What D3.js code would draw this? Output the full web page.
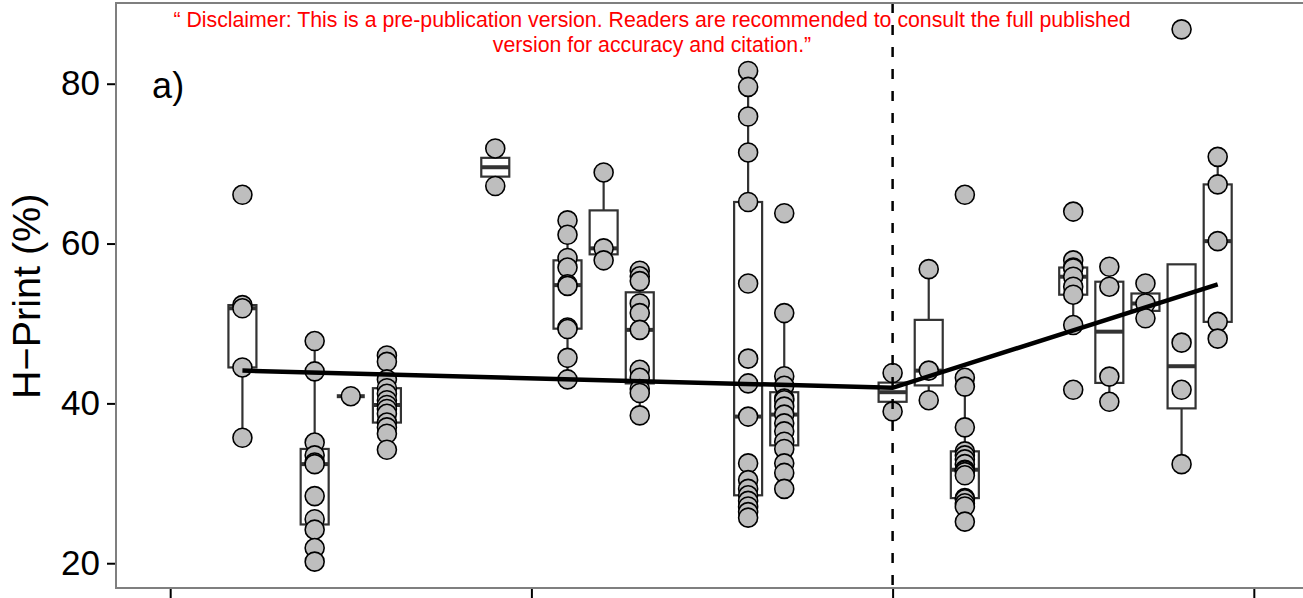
<!DOCTYPE html>
<html>
<head>
<meta charset="utf-8">
<script src="https://cdn.jsdelivr.net/npm/d3@7"></script>
<style>
  html, body { margin: 0; padding: 0; background: #fff; }
  svg { display: block; font-family: "Liberation Sans", Arial, sans-serif; }
</style>
</head>
<body>
<svg id="chart" width="1303" height="598"></svg>
<script>
// sampling years (x) and H-Print values (%) for each year
const years = [1992, 1994, 1995, 1996, 1999, 2001, 2002, 2003, 2006, 2007, 2010, 2011, 2012, 2015, 2016, 2017, 2018, 2019];

const p1992 = [66.1, 52.3, 51.9, 44.5, 35.7];
const p1994 = [47.8, 44.0, 35.1, 33.5, 32.6, 32.4, 28.4, 25.5, 24.2, 21.9, 20.2];
const p1995 = [40.9];
const p1996 = [46.0, 45.2, 43.0, 41.9, 41.2, 40.4, 39.8, 39.3, 38.7, 37.6, 37.0, 36.2, 34.2];
const p1999 = [71.9, 67.2];
const p2001 = [62.9, 61.1, 58.2, 57.0, 54.9, 54.7, 49.5, 49.3, 45.7, 43.0];
const p2002 = [68.9, 59.4, 57.9];
const p2003 = [56.6, 55.9, 55.3, 52.5, 51.3, 49.2, 44.2, 43.2, 41.8, 41.3, 38.5];
const p2006 = [81.6, 79.6, 75.9, 71.4, 65.2, 55.0, 45.6, 42.5, 38.35, 32.5, 30.4, 29.3, 28.5, 27.8, 27.1, 26.4, 25.7];
const p2007 = [63.8, 51.3, 43.4, 42.2, 40.6, 40.4, 39.6, 38.6, 37.5, 36.5, 35.2, 34.3, 32.5, 31.3, 29.3];
const p2010 = [43.8, 39.0];
const p2011 = [56.8, 44.1, 40.4];
const p2012 = [66.1, 43.2, 42.1, 37.0, 34.0, 33.5, 33.0, 32.4, 31.7, 31.6, 31.4, 31.0, 28.15, 28.0, 27.5, 27.1, 25.2];
const p2015 = [64.0, 57.9, 57.0, 56.9, 55.85, 54.6, 53.6, 49.8, 41.7];
const p2016 = [57.1, 54.6, 43.35, 40.2];
const p2017 = [55.0, 52.5, 50.65];
const p2018 = [86.8, 47.6, 41.7, 32.4];
const p2019 = [70.85, 67.4, 60.3, 50.2, 48.1];

const values = [p1992, p1994, p1995, p1996, p1999, p2001, p2002, p2003, p2006, p2007,
                p2010, p2011, p2012, p2015, p2016, p2017, p2018, p2019];

// segmented trend, break at 2010
const trendYears = [1992, 2010, 2019];
const trendValues = [44.1, 41.95, 54.9];
const breakYear = 2010;

const yTicks = [20, 40, 60, 80];
const xTicks = [1990, 2000, 2010, 2020];

const disclaimer = [
    "\u201C Disclaimer: This is a pre-publication version. Readers are recommended to consult the full published",
    "version for accuracy and citation.\u201D"
];

const svg = d3.select("#chart");
const margin = {left: 116, top: 3},
    width = 1192,
    height = 585;

const x = d3.scaleLinear().domain([1988.5, 2021.5]).range([margin.left, margin.left + width]);
const y = d3.scaleLinear().domain([16.9, 90.1]).range([margin.top + height, margin.top]);

const boxW = 28;

function boxStats(v) {
    const s = v.slice().sort(d3.ascending);
    const q1 = d3.quantile(s, 0.25), med = d3.quantile(s, 0.5), q3 = d3.quantile(s, 0.75);
    const iqr = q3 - q1;
    const lo = d3.min(s.filter(d => d >= q1 - 1.5 * iqr));
    const hi = d3.max(s.filter(d => d <= q3 + 1.5 * iqr));
    return {q1, med, q3, lo, hi};
}

const groups = years.map((yr, i) => ({year: yr, vals: values[i], st: boxStats(values[i])}));

// boxes
const box = svg.append("g").selectAll("g")
    .data(groups)
    .enter().append("g");

box.append("line")
    .attr("x1", d => x(d.year)).attr("x2", d => x(d.year))
    .attr("y1", d => y(d.st.q3)).attr("y2", d => y(d.st.hi))
    .attr("stroke", "#333").attr("stroke-width", 2.2);
box.append("line")
    .attr("x1", d => x(d.year)).attr("x2", d => x(d.year))
    .attr("y1", d => y(d.st.q1)).attr("y2", d => y(d.st.lo))
    .attr("stroke", "#333").attr("stroke-width", 2.2);
box.append("rect")
    .attr("x", d => x(d.year) - boxW / 2)
    .attr("y", d => y(d.st.q3))
    .attr("width", boxW)
    .attr("height", d => y(d.st.q1) - y(d.st.q3))
    .attr("fill", "white")
    .attr("stroke", "#333").attr("stroke-width", 2.2);
box.append("line")
    .attr("x1", d => x(d.year) - boxW / 2).attr("x2", d => x(d.year) + boxW / 2)
    .attr("y1", d => y(d.st.med)).attr("y2", d => y(d.st.med))
    .attr("stroke", "#333").attr("stroke-width", 4);

// points
const pts = groups.flatMap(g => g.vals.map(v => ({year: g.year, v})));
svg.append("g").selectAll("circle")
    .data(pts)
    .enter().append("circle")
    .attr("cx", d => x(d.year))
    .attr("cy", d => y(d.v))
    .attr("r", 9.5)
    .attr("fill", "#bebebe")
    .attr("stroke", "black")
    .attr("stroke-width", 1.6);

// trend line
const line = d3.line().x(d => x(d[0])).y(d => y(d[1]));
svg.append("path")
    .datum(trendYears.map((t, i) => [t, trendValues[i]]))
    .attr("d", line)
    .attr("fill", "none")
    .attr("stroke", "black")
    .attr("stroke-width", 4.5);

// break line
svg.append("line")
    .attr("x1", x(breakYear)).attr("x2", x(breakYear))
    .attr("y1", margin.top).attr("y2", margin.top + height)
    .attr("stroke", "black")
    .attr("stroke-width", 2.5)
    .attr("stroke-dasharray", "10,12");

// panel border
svg.append("rect")
    .attr("x", margin.left).attr("y", margin.top)
    .attr("width", width).attr("height", height)
    .attr("fill", "none")
    .attr("stroke", "#7f7f7f")
    .attr("stroke-width", 2);

// axes
const yAxis = svg.append("g")
    .attr("transform", "translate(" + (margin.left - 1) + ",0)")
    .call(d3.axisLeft(y).tickValues(yTicks).tickSize(8).tickPadding(7));
yAxis.select(".domain").remove();
yAxis.selectAll(".tick line").attr("stroke", "black").attr("stroke-width", 2);
yAxis.selectAll(".tick text")
    .attr("fill", "black")
    .attr("font-size", 35)
    .attr("font-family", "Liberation Sans, Arial, sans-serif");

const xAxis = svg.append("g")
    .attr("transform", "translate(0," + (margin.top + height + 1) + ")")
    .call(d3.axisBottom(x).tickValues(xTicks).tickSize(12).tickFormat(""));
xAxis.select(".domain").remove();
xAxis.selectAll(".tick line").attr("stroke", "black").attr("stroke-width", 2);

// axis title
svg.append("text")
    .attr("transform", "translate(40," + y(53.4) + ") rotate(-90)")
    .attr("text-anchor", "middle")
    .attr("font-size", 39.5)
    .attr("fill", "black")
    .text("H\u2212Print (%)");

// panel tag
svg.append("text")
    .attr("x", x(1989.5))
    .attr("y", y(80) + 14)
    .attr("font-size", 36)
    .attr("fill", "black")
    .text("a)");

// disclaimer
svg.append("g").selectAll("text")
    .data(disclaimer)
    .enter().append("text")
    .attr("x", 652)
    .attr("y", (d, i) => 27 + i * 25)
    .attr("text-anchor", "middle")
    .attr("font-size", 21.3)
    .attr("fill", "#ff0000")
    .text(d => d);
</script>
</body>
</html>
